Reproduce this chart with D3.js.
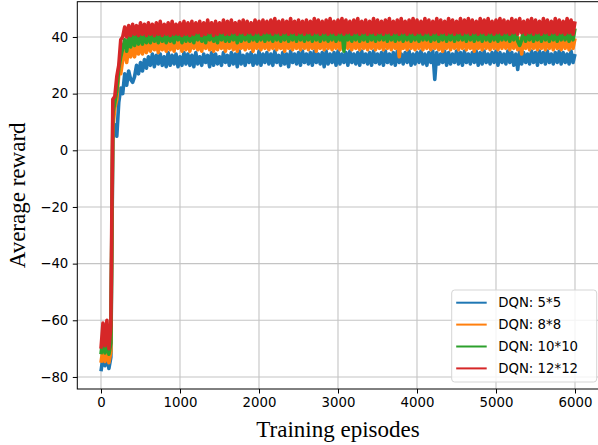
<!DOCTYPE html>
<html>
<head>
<meta charset="utf-8">
<script src="https://cdn.jsdelivr.net/npm/d3@7"></script>
<style>
  body { margin: 0; background: #fff; }
  svg { display: block; }
  .tick text { font-family: "DejaVu Sans", sans-serif; font-size: 13.3px; fill: #000; }
</style>
</head>
<body>
<svg id="chart"></svg>
<script>
// Series values, one value every 25 training episodes (0 .. 6000)
const labels = ["DQN: 5*5", "DQN: 8*8", "DQN: 10*10", "DQN: 12*12"];
const colors = ["#1f77b4", "#ff7f0e", "#2ca02c", "#d62728"];
const xTicks = [0, 1000, 2000, 3000, 4000, 5000, 6000];
const yTicks = [-80, -60, -40, -20, 0, 20, 40];

const dqn5 = [
  -78, -73, -76, -72.5, -77, -73,
  4, 9, 5, 17, 22, 20,
  27, 23, 28, 25, 24, 26, 30, 27, 31, 28, 32, 29,
  33, 30, 34, 29.5, 33.5, 30.5, 34, 30, 33, 29.5, 34.5, 30, 33.5, 30.5, 34, 29.5, 33, 30, 34.5, 30.5,
  34, 30, 33.5, 29.5, 34.5, 30.5, 33, 30, 34, 31, 33.5, 29.5, 34.5, 30, 34, 30.5, 33, 30, 34.5, 31,
  33.5, 30, 34.5, 30.5, 34, 29.5, 35, 30.5, 33.5, 30, 34, 31, 34.5, 30, 33.5, 30.5, 35, 30, 34, 31,
  34.5, 30.5, 34, 30, 35, 31, 33.5, 30, 34.5, 30.5, 34, 29.5, 35, 31, 34, 30.5, 34.5, 30, 35, 31,
  34, 30.5, 34.5, 30, 35, 31, 34, 30.5, 34.5, 29.5, 35, 30.5, 34, 31, 34.5, 30, 35, 30.5, 34, 31,
  34.5, 30, 35, 31, 34, 30.5, 34.5, 30, 35, 31, 34, 30.5, 34.5, 30, 35, 31, 34, 30.5, 34.5, 30,
  35, 31, 34, 30.5, 34.5, 30, 35, 31, 34, 30.5, 34.5, 31, 35, 30, 34, 30.5, 34.5, 31, 35, 30.5,
  34, 30, 34.5, 31, 35, 25, 34.5, 30.5, 34, 31, 35, 30, 34.5, 30.5, 34, 31, 35, 30.5, 34.5, 30,
  35, 31, 34, 30.5, 34.5, 31, 35, 30, 34.5, 30.5, 35, 31, 34, 30.5, 34.5, 31, 35, 30, 34.5, 31,
  34, 30.5, 35, 31, 34.5, 30, 34, 28.5, 35, 30.5, 34.5, 31, 34, 30.5, 35, 31, 34.5, 30, 35, 31,
  34.5, 30.5, 35, 31, 34, 30.5, 34.5, 31, 35, 30.5, 34.5, 31, 34, 30.5, 35, 31, 34
];

const dqn8 = [
  -75, -70, -74.5, -70, -75, -71,
  8, 15, 18, 27, 27, 32,
  35, 31, 36, 33, 36.5, 33, 37, 34, 37.5, 34, 38, 34.5,
  38.5, 35, 39, 35.5, 38.5, 34.5, 39, 35.5, 38, 35, 39.5, 35.5, 38.5, 35, 39, 36, 38.5, 35, 39.5, 35.5,
  39, 35, 38.5, 36, 39.5, 35.5, 38.5, 35, 39, 36, 39.5, 35.5, 38.5, 35, 39, 35.5, 39.5, 36, 38.5, 35,
  39, 36, 39.5, 35.5, 39, 35, 40, 36, 38.5, 35.5, 39.5, 36, 39, 35, 39.5, 36, 40, 35.5, 39, 36,
  39.5, 35.5, 39, 36, 40, 35.5, 39, 36, 39.5, 35, 40, 36, 39, 35.5, 39.5, 36, 39, 35.5, 40, 36,
  39, 35.5, 39.5, 36, 40, 35, 39, 36, 39.5, 35.5, 40, 36, 39, 35.5, 39.5, 36, 40, 35.5, 39, 36,
  39.5, 36, 40, 35.5, 39, 36, 39.5, 35.5, 40, 36, 39, 35.5, 39.5, 36, 40, 35.5, 39, 36, 39.5, 35.5,
  40, 36, 39, 35.5, 39.5, 36, 40, 33, 39, 36, 39.5, 35.5, 40, 36, 39, 35.5, 39.5, 36, 40, 35.5,
  39.5, 36, 40, 35.5, 39, 36, 39.5, 35.5, 40, 35, 39.5, 36, 40, 35.5, 39, 36, 40, 35.5, 39.5, 36,
  40, 35.5, 39, 36, 39.5, 35, 40, 36, 39.5, 35.5, 40, 36, 39, 35.5, 40, 36, 39.5, 35.5, 40, 36,
  39.5, 36, 40, 35.5, 39, 36, 40, 35.5, 39.5, 34, 40, 36, 39.5, 35.5, 40, 36, 39, 35.5, 40, 36,
  39.5, 35.5, 40, 36, 39.5, 35.5, 40, 36, 39, 35.5, 40, 36, 39.5, 35.5, 40, 36, 39.5
];

const dqn10 = [
  -72, -66, -71.5, -67, -72, -68,
  13, 17, 21, 29, 33, 36,
  39, 35, 40, 36.5, 40.5, 37, 41, 37.5, 41.5, 37.5, 41, 38,
  41.5, 38, 42, 38.5, 41.5, 38, 42.5, 38.5, 41.5, 38, 42, 38.5, 41.5, 38, 42.5, 39, 41.5, 38, 42, 38.5,
  42, 38.5, 41.5, 38, 42.5, 39, 42, 38.5, 41.5, 38, 42.5, 39, 42, 38.5, 41.5, 38, 42.5, 39, 42, 38.5,
  42.5, 38.5, 42, 39, 42.5, 38, 43, 38.5, 42, 39, 42.5, 38.5, 43, 39, 42, 38.5, 42.5, 39, 43, 38.5,
  42, 39, 42.5, 38.5, 43, 39, 42, 38.5, 42.5, 39, 43, 38.5, 42, 39, 42.5, 38.5, 43, 39, 42, 38.5,
  42.5, 39, 43, 38.5, 42, 39, 42.5, 38.5, 43, 39, 42, 38.5, 42.5, 39, 43, 38.5, 42, 39, 42.5, 35,
  43, 39, 42, 38.5, 42.5, 39, 43, 38.5, 42, 39, 42.5, 38.5, 43, 39, 42, 38.5, 42.5, 39, 43, 39,
  42.5, 38.5, 43, 39, 42, 38.5, 42.5, 39, 43, 38.5, 42.5, 39, 43, 38.5, 42, 39, 42.5, 38.5, 43, 39,
  42.5, 39, 43, 38.5, 42.5, 39, 43, 38.5, 42, 39, 43, 38.5, 42.5, 39, 43, 38.5, 42.5, 39, 43, 39,
  42.5, 38.5, 43, 39, 42.5, 38.5, 43, 39, 42.5, 38.5, 43, 39, 42, 38.5, 43, 39, 42.5, 38.5, 43, 39,
  42.5, 39, 43, 38.5, 42.5, 39, 43, 38.5, 37, 39, 43, 38.5, 42.5, 39, 43, 38.5, 42.5, 39, 43, 38.5,
  43, 39, 42.5, 38.5, 43, 39, 42.5, 38.5, 43, 39, 42.5, 39, 43, 38.5, 42.5, 39, 43
];

const dqn12 = [
  -70, -61, -69, -60, -70, -62,
  18, 19, 26, 30, 39, 40,
  43.5, 40, 44, 40.5, 44.5, 41, 44, 40.5, 45, 41, 44.5, 40.5,
  45, 41, 44.5, 40.5, 45, 41, 45.5, 40.5, 44.5, 41, 45, 40.5, 45.5, 41, 44.5, 41, 45, 40.5, 45.5, 41,
  45, 40.5, 45.5, 41, 45, 41.5, 45.5, 40.5, 45, 41, 46, 41.5, 45, 40.5, 45.5, 41, 45, 41.5, 46, 41,
  45.5, 41, 46, 41.5, 45, 41, 45.5, 41.5, 46, 41, 45.5, 41.5, 45, 41, 46, 41.5, 45.5, 41, 46, 41.5,
  45.5, 41.5, 46, 41, 46.5, 41.5, 45.5, 41, 46, 41.5, 45.5, 41, 46.5, 41.5, 45.5, 41, 46, 41.5, 45.5, 41,
  46, 41.5, 45.5, 41, 46.5, 41.5, 46, 41, 45.5, 41.5, 46, 41, 46.5, 41.5, 45.5, 41, 46, 41.5, 46.5, 41,
  46, 41.5, 45.5, 41, 46, 41.5, 46.5, 41, 45.5, 41.5, 46, 41, 45.5, 41.5, 46.5, 41, 46, 41.5, 45.5, 41,
  46, 41.5, 46.5, 41, 45.5, 41.5, 46, 41, 46.5, 41.5, 45.5, 41, 46, 41.5, 46.5, 41, 46, 41.5, 45.5, 41,
  46.5, 41.5, 46, 41, 45.5, 41.5, 46.5, 41, 46, 41.5, 45.5, 41, 46.5, 41.5, 46, 41, 45.5, 41.5, 46.5, 41,
  46, 41.5, 46.5, 41, 46, 41.5, 45.5, 41, 46.5, 41.5, 46, 41, 46.5, 41.5, 45.5, 41, 46, 41.5, 46.5, 41,
  46, 41.5, 45.5, 41, 46.5, 41.5, 46, 41, 46.5, 41.5, 45.5, 41, 46, 41.5, 46.5, 41, 46, 41.5, 45.5, 41,
  46.5, 41.5, 46, 41, 45.5, 41.5, 46.5, 41, 46, 41.5, 45.5, 41, 46.5, 41.5, 46, 41, 45.5
];

const episodes = d3.range(0, 6001, 25);
const seriesValues = [dqn5, dqn8, dqn10, dqn12];

const W = 598, H = 445;
const plot = { left: 77.3, right: 598.7, top: 1.7, bottom: 389 };

const svg = d3.select("#chart").attr("width", W).attr("height", H);

const x = d3.scaleLinear().domain([-300, 6300]).range([plot.left, plot.right]);
const y = d3.scaleLinear().domain([-84.25, 52.45]).range([plot.bottom, plot.top]);

// grid
svg.append("g").selectAll("line").data(xTicks).enter().append("line")
  .attr("x1", d => x(d)).attr("x2", d => x(d))
  .attr("y1", plot.top).attr("y2", plot.bottom)
  .attr("stroke", "#c4c4c4").attr("stroke-width", 1.1);
svg.append("g").selectAll("line").data(yTicks).enter().append("line")
  .attr("x1", plot.left).attr("x2", plot.right)
  .attr("y1", d => y(d)).attr("y2", d => y(d))
  .attr("stroke", "#c4c4c4").attr("stroke-width", 1.1);

// lines (noisy curves -> wider stroke so each band reads solid)
const line = d3.line().x((d, i) => x(episodes[i])).y(d => y(d));
seriesValues.forEach((vals, k) => {
  svg.append("path")
    .datum(vals)
    .attr("fill", "none")
    .attr("stroke", colors[k])
    .attr("stroke-width", 3.6)
    .attr("stroke-linejoin", "round")
    .attr("d", line);
});

// spines
svg.append("rect")
  .attr("x", plot.left).attr("y", plot.top)
  .attr("width", plot.right - plot.left).attr("height", plot.bottom - plot.top)
  .attr("fill", "none").attr("stroke", "#000").attr("stroke-width", 1);

// axes
const xAxis = svg.append("g")
  .attr("transform", `translate(0,${plot.bottom})`)
  .call(d3.axisBottom(x).tickValues(xTicks).tickSize(4.5).tickPadding(4.5).tickFormat(d3.format("d")));
const yAxis = svg.append("g")
  .attr("transform", `translate(${plot.left},0)`)
  .call(d3.axisLeft(y).tickValues(yTicks).tickSize(4.5).tickPadding(4.5)
    .tickFormat(d => d < 0 ? "\u2212" + Math.abs(d) : d));
[xAxis, yAxis].forEach(a => {
  a.select(".domain").remove();
  a.selectAll(".tick line").attr("stroke", "#000").attr("stroke-width", 1);
});

// axis titles
svg.append("text")
  .attr("x", (x(0) + x(6000)) / 2).attr("y", 437)
  .attr("text-anchor", "middle")
  .style("font-family", "'Liberation Serif', 'Times New Roman', serif")
  .style("font-size", "23px")
  .text("Training episodes");
svg.append("text")
  .attr("transform", `translate(25,${(plot.top + plot.bottom) / 2}) rotate(-90)`)
  .attr("text-anchor", "middle")
  .style("font-family", "'Liberation Serif', 'Times New Roman', serif")
  .style("font-size", "23px")
  .text("Average reward");

// legend
const legend = svg.append("g").attr("transform", "translate(451.7,290)");
legend.append("rect")
  .attr("width", 145).attr("height", 92).attr("rx", 3)
  .attr("fill", "#fff").attr("fill-opacity", 0.8)
  .attr("stroke", "#d5d5d5").attr("stroke-width", 1);
labels.forEach((lab, k) => {
  const row = legend.append("g").attr("transform", `translate(0,${12.7 + k * 21.9})`);
  row.append("line")
    .attr("x1", 4.5).attr("x2", 35).attr("y1", 0).attr("y2", 0)
    .attr("stroke", colors[k]).attr("stroke-width", 2);
  row.append("text")
    .attr("x", 46.5).attr("y", 0).attr("dy", "0.35em")
    .style("font-family", "'DejaVu Sans', sans-serif")
    .style("font-size", "13.3px")
    .text(lab);
});
</script>
</body>
</html>
